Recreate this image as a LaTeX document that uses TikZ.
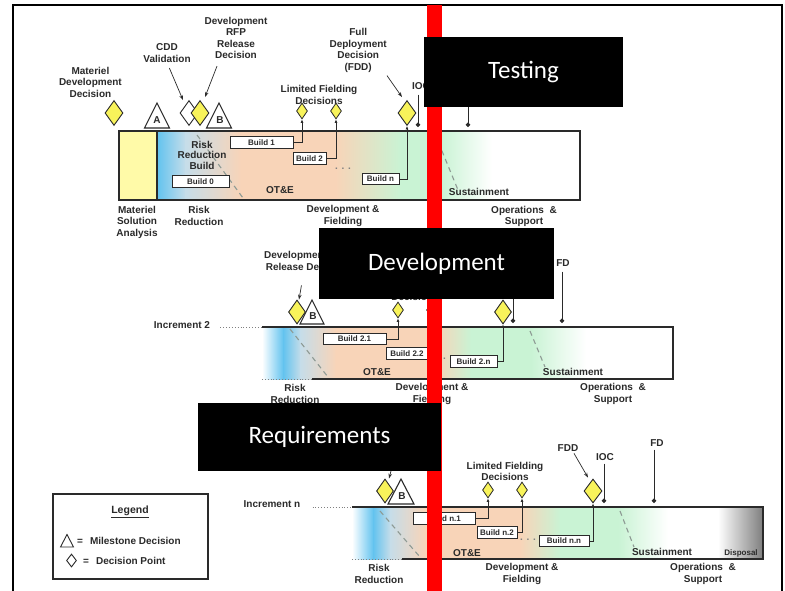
\documentclass[tikz,border=0pt]{standalone}
\usepackage{fontspec}
\setmainfont{Liberation Sans}
\newfontfamily\phasefont{Carlito}
\usetikzlibrary{shapes.geometric,arrows.meta}
\definecolor{ink}{HTML}{2A2A2A}
\definecolor{diayel}{HTML}{F8F35A}
\definecolor{msayel}{HTML}{FFFAA8}
\definecolor{skyb}{HTML}{62C3EF}
\definecolor{paleb}{HTML}{C6DDE9}
\definecolor{peach}{HTML}{F8D4B8}
\definecolor{mint}{HTML}{C9F3D4}
\definecolor{dispgray}{HTML}{7E7E7E}
\definecolor{trendgray}{HTML}{8E9A94}
\definecolor{redbar}{HTML}{FF0000}
\begin{document}
\begin{tikzpicture}[x=1pt,y=-1pt,
  lbl/.style={font=\bfseries\fontsize{10}{11.5}\selectfont, text=ink, align=center, inner sep=0pt},
  buildbox/.style={draw=ink, line width=0.9pt, fill=white, font=\bfseries\fontsize{8}{9}\selectfont, text=ink, inner sep=0pt, minimum height=11.5pt},
  bigdia/.style={diamond, draw=ink, line width=0.9pt, fill=diayel, minimum width=18pt, minimum height=25pt, inner sep=0pt},
  smalldia/.style={diamond, draw=ink, line width=0.8pt, fill=diayel, minimum width=11pt, minimum height=16pt, inner sep=0pt},
  feed/.style={draw=ink, line width=0.8pt, -{Latex[length=3.5pt,width=3pt]}},
  callout/.style={draw=ink, line width=0.7pt, -{Stealth[length=5pt,width=3.5pt]}},
  stake/.style={draw=ink, line width=0.9pt, -{Circle[length=4.5pt]}},
  leader/.style={draw=gray, line width=0.9pt, dotted},
  barline/.style={draw=ink, line width=1.1pt},
  trend/.style={draw=trendgray, line width=1.1pt, dash pattern=on 5pt off 4pt},
  milestone/.style={draw=ink, line width=1.1pt, fill=white, line join=miter},
  mslet/.style={font=\bfseries\fontsize{10}{11}\selectfont, text=ink, inner sep=0pt},
  phasebox/.style={fill=black, text=white, font=\phasefont\fontsize{25}{30}\selectfont, inner sep=0pt}]
\useasboundingbox (0,0) rectangle (785,590);
\fill[white] (0,0) rectangle (785,590);

% outer frame
\draw[line width=2.6pt, black] (13,595) -- (13,5) -- (782,5) -- (782,595);

% ---------------- first increment ----------------
\fill[msayel] (119,131) rectangle (157,200);
\shade[left color=skyb, right color=paleb] (157,131) rectangle (186,200);
\shade[left color=paleb, right color=peach] (185.5,131) rectangle (241,200);
\fill[peach] (240.5,131) rectangle (336,200);
\shade[left color=peach, right color=mint] (335.5,131) rectangle (401,200);
\fill[mint] (400.5,131) rectangle (441,200);
\shade[left color=mint, right color=white] (440.5,131) rectangle (492,200);
\draw[barline] (119,131) rectangle (580,200);
\draw[barline] (157,131) -- (157,200);
\draw[trend] (197,135) -- (243,198);
\draw[trend] (435,134) -- (458,190);

\node[lbl, anchor=east] (mddlbl) at (122,82) {Materiel\\Development\\Decision};
\node[bigdia] (mdd) at (114,113) {};
\draw[milestone] (144.5,128) -- (157,103) -- (169.5,128) -- cycle;
\node[mslet] (msA) at (157,120) {A};
\node[lbl] (cddlbl) at (167,53) {CDD\\Validation};
\node[bigdia, fill=white] (cdd) at (189,113) {};
\draw[milestone] (206.5,128) -- (219,103) -- (231.5,128) -- cycle;
\node[mslet] (msB1) at (220,120) {B};
\node[bigdia] (drfp1) at (200,113) {};
\node[lbl] (drfp1lbl) at (236,38) {Development\\RFP\\Release\\Decision};
\draw[callout, shorten <=6pt] (cddlbl.south) -- ([xshift=-6pt]cdd.north);
\draw[callout] ([xshift=-19pt,yshift=-7pt]drfp1lbl.south) -- ([xshift=5pt,yshift=3pt]drfp1.north);

\node[lbl] (lf1lbl) at (319,95) {Limited Fielding\\Decisions};
\node[smalldia] (lf11) at (302,111) {};
\node[smalldia] (lf12) at (336,111) {};
\node[lbl, anchor=east] (fdd1lbl) at (387,50.5) {Full\\Deployment\\Decision\\(FDD)};
\node[bigdia] (fdd1) at (407,113) {};
\draw[callout] ([yshift=-3pt]fdd1lbl.south east) -- ([xshift=-5pt,yshift=3pt]fdd1.north);

\node[lbl] (ioc1lbl) at (421,86) {IOC};
\coordinate (ioc1pt) at (418,127);
\draw[stake, shorten <=5pt] (ioc1lbl.south -| ioc1pt) -- (ioc1pt);
\node[lbl] (fd1lbl) at (468,55) {Full\\Deployment\\(FD)};
\coordinate (fd1pt) at (468,127);
\draw[stake, shorten <=4pt] (fd1lbl.south -| fd1pt) -- (fd1pt);

\node[lbl, font=\bfseries\fontsize{10}{10.5}\selectfont] (rrb) at (202,155) {Risk\\Reduction\\Build};
\node[buildbox, minimum width=57pt] (b0) at (200.5,181.5) {Build 0};
\node[buildbox, minimum width=63pt] (b1) at (261.5,142.5) {Build 1};
\node[buildbox, minimum width=33pt] (b2) at (309.5,158.5) {Build 2};
\node[buildbox, minimum width=37pt] (bn) at (380.5,179) {Build n};
\node[lbl, text=gray] (dots1) at (343,169) {. . .};
\draw[feed] (b1.east) -| (lf11.south);
\draw[feed] (b2.east) -| (lf12.south);
\draw[feed] (bn.east) -| (fdd1.south);
\node[lbl] (ote1) at (280,190) {OT\&E};
\node[lbl] (sus1) at (479,192) {Sustainment};

\node[lbl] (msa1) at (137,222) {Materiel\\Solution\\Analysis};
\node[lbl] (rr1) at (199,216) {Risk\\Reduction};
\node[lbl] (df1) at (343,216) {Development \&\\Fielding};
\node[lbl] (os1) at (524,216.5) {Operations \ \&\\Support};

% ---------------- second increment ----------------
\shade[left color=white, right color=skyb] (262,327) rectangle (283.5,379);
\shade[left color=skyb, right color=paleb] (283,327) rectangle (301,379);
\shade[left color=paleb, right color=peach] (300.5,327) rectangle (336,379);
\fill[peach] (335.5,327) rectangle (436,379);
\shade[left color=peach, right color=mint] (435.5,327) rectangle (471,379);
\fill[mint] (470.5,327) rectangle (531,379);
\shade[left color=mint, right color=white] (530.5,327) rectangle (586,379);
\draw[barline] (262,327) -- (673,327) -- (673,379) -- (312,379);
\draw[leader] (312,379) -- (262,379);
\draw[trend] (290,329) -- (328,377);
\draw[trend] (530,331) -- (545,367);

\node[lbl] (inc2) at (182,325) {Increment 2};
\coordinate (inc2bar) at (262,327);
\draw[leader] ([xshift=10pt]inc2.east |- inc2bar) -- (inc2bar);

\node[lbl] (drfp2lbl) at (307,261) {Development RFP\\Release Decision};
\draw[milestone] (300,324) -- (312,300) -- (324,324) -- cycle;
\node[mslet] (msB2) at (313,316) {B};
\node[bigdia, minimum width=17pt, minimum height=24pt] (drfp2) at (297,312) {};
\draw[callout, shorten <=15pt] ([xshift=-3pt]drfp2lbl.south) -- ([xshift=2pt]drfp2.north);

\node[lbl] (lf2lbl) at (415,291) {Limited Fielding\\Decisions};
\node[smalldia] (lf21) at (398,310) {};
\node[smalldia] (lf22) at (432,310) {};
\coordinate (fdd2from) at (488,290);
\node[bigdia, minimum width=17pt, minimum height=24pt] (fdd2) at (503,312) {};
\draw[callout] (fdd2from) -- ([xshift=-4pt,yshift=2pt]fdd2.north);
\coordinate (ioc2top) at (513,288);
\coordinate (ioc2pt) at (513,323);
\draw[stake] (ioc2top) -- (ioc2pt);
\node[lbl] (fd2lbl) at (563,263) {FD};
\coordinate (fd2pt) at (562,323);
\draw[stake, shorten <=5pt] (fd2lbl.south -| fd2pt) -- (fd2pt);

\node[buildbox, minimum width=63pt] (b21) at (354.5,339) {Build 2.1};
\node[buildbox, minimum width=42pt] (b22) at (407,353.5) {Build 2.2};
\node[buildbox, minimum width=47pt] (b2n) at (473.5,361.5) {Build 2.n};
\node[lbl, text=gray] (dots2) at (438,359) {. . .};
\draw[feed] (b21.east) -| (lf21.south);
\draw[feed] (b22.east) -| (lf22.south);
\draw[feed] (b2n.east) -| (fdd2.south);
\node[lbl] (ote2) at (377,372) {OT\&E};
\node[lbl] (sus2) at (573,372) {Sustainment};

\node[lbl] (rr2) at (295,394) {Risk\\Reduction};
\node[lbl] (df2) at (432,394) {Development \&\\Fielding};
\node[lbl] (os2) at (613,394) {Operations \ \&\\Support};

% ---------------- last increment ----------------
\shade[left color=white, right color=skyb] (352,507) rectangle (373.5,559);
\shade[left color=skyb, right color=paleb] (373,507) rectangle (390.5,559);
\shade[left color=paleb, right color=peach] (390,507) rectangle (425.5,559);
\fill[peach] (425,507) rectangle (520.5,559);
\shade[left color=peach, right color=mint] (520,507) rectangle (560.5,559);
\fill[mint] (560,507) rectangle (618.5,559);
\shade[left color=mint, right color=white] (618,507) rectangle (668,559);
\shade[left color=white, right color=dispgray] (718,507) rectangle (763,559);
\draw[barline] (352,507) -- (763,507) -- (763,559) -- (402,559);
\draw[leader] (402,559) -- (352,559);
\draw[trend] (380,511) -- (420,557);
\draw[trend] (620,511) -- (634,547);

\node[lbl] (incn) at (272,504) {Increment n};
\coordinate (incnbar) at (352,507);
\draw[leader] ([xshift=12pt]incn.east |- incnbar) -- (incnbar);

\coordinate (drfpnfrom) at (396,452);
\draw[milestone] (388,504) -- (401,479) -- (414,504) -- cycle;
\node[mslet] (msBn) at (402,496) {B};
\node[bigdia, minimum width=17pt, minimum height=24pt] (drfpn) at (385,491) {};
\draw[callout] (drfpnfrom) -- ([xshift=4pt]drfpn.north);

\node[lbl] (lfnlbl) at (505,471.5) {Limited Fielding\\Decisions};
\node[smalldia] (lfn1) at (488,490) {};
\node[smalldia] (lfn2) at (522,490) {};
\node[lbl] (fddnlbl) at (568,448) {FDD};
\node[bigdia, minimum height=24pt] (fddn) at (593,491) {};
\draw[callout, shorten <=2pt] ([xshift=5pt]fddnlbl.south) -- ([xshift=-5pt,yshift=1pt]fddn.north);
\node[lbl] (iocnlbl) at (605,457) {IOC};
\coordinate (iocnpt) at (604,503);
\draw[stake, shorten <=3pt] (iocnlbl.south -| iocnpt) -- (iocnpt);
\node[lbl] (fdnlbl) at (657,443) {FD};
\coordinate (fdnpt) at (654,503);
\draw[stake, shorten <=3pt] (fdnlbl.south -| fdnpt) -- (fdnpt);

\node[buildbox, minimum width=62pt] (bn1) at (444,518.5) {Build n.1};
\node[buildbox, minimum width=40pt] (bn2) at (497,532.5) {Build n.2};
\node[buildbox, minimum width=50pt] (bnn) at (564,541) {Build n.n};
\node[lbl, text=gray] (dotsn) at (528,540) {. . .};
\draw[feed] (bn1.east) -| (lfn1.south);
\draw[feed] (bn2.east) -| (lfn2.south);
\draw[feed] (bnn.east) -| (fddn.south);
\node[lbl] (oten) at (467,553) {OT\&E};
\node[lbl] (susn) at (662,552) {Sustainment};
\node[lbl, font=\bfseries\fontsize{8}{9}\selectfont] (disp) at (741,553) {Disposal};

\node[lbl] (rrn) at (379,574) {Risk\\Reduction};
\node[lbl] (dfn) at (522,574) {Development \&\\Fielding};
\node[lbl] (osn) at (703,574) {Operations \ \&\\Support};

% ---------------- legend ----------------
\node[draw=ink, line width=1.1pt, minimum width=155pt, minimum height=85pt, inner sep=0pt] (legend) at (130.5,536.5) {};
\node[lbl, font=\bfseries\fontsize{10.5}{12}\selectfont] (legtitle) at (130,512) {\underline{Legend}};
\draw[milestone, line width=0.9pt] (60.5,547) -- (67,534.5) -- (73.5,547) -- cycle;
\node[lbl, anchor=west] (legms) at (77,540.5) {=\hspace{7pt}Milestone Decision};
\node[diamond, draw=ink, line width=0.9pt, fill=white, minimum width=10pt, minimum height=13pt, inner sep=0pt] (legdia) at (71.5,560.5) {};
\node[lbl, anchor=west] (legdp) at (83,560.5) {=\hspace{7pt}Decision Point};

% ---------------- overlay: red marker and phase captions ----------------
\fill[redbar] (427,5) rectangle (441.5,595);
\node[phasebox, minimum width=199pt, minimum height=70pt] (testing) at (523.5,72) {Testing};
\node[phasebox, minimum width=235pt, minimum height=71pt] (development) at (436.5,263.5) {Development};
\node[phasebox, minimum width=243pt, minimum height=68pt] (requirements) at (319.5,437) {Requirements};
\end{tikzpicture}
\end{document}
